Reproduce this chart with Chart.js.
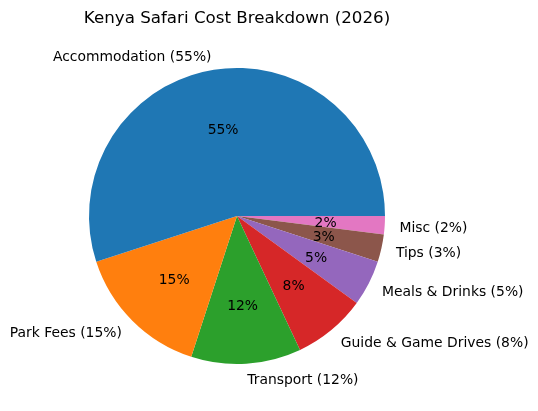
<!DOCTYPE html>
<html>
<head>
<meta charset="utf-8">
<script src="https://cdn.jsdelivr.net/npm/chart.js@4/dist/chart.umd.min.js"></script>
<style>
html,body{margin:0;padding:0;background:#fff;}
#wrap{width:538px;height:411px;position:relative;}
</style>
</head>
<body>
<div id="wrap"><canvas id="c" width="538" height="411"></canvas></div>
<script>
const categories = ["Accommodation", "Park Fees", "Transport", "Guide & Game Drives", "Meals & Drinks", "Tips", "Misc"];
const values = [55, 15, 12, 8, 5, 3, 2];
const colors = ["#1f77b4", "#ff7f0e", "#2ca02c", "#d62728", "#9467bd", "#8c564b", "#e377c2"];
const titleText = "Kenya Safari Cost Breakdown (2026)";

// matplotlib draws counter-clockwise from 3 o'clock; Chart.js draws clockwise,
// so reverse the order and start at 3 o'clock.
const rCats = categories.slice().reverse();
const rVals = values.slice().reverse();
const rCols = colors.slice().reverse();
const total = values.reduce((a, b) => a + b, 0);

const FONT = '"DejaVu Sans", sans-serif';

const labelPlugin = {
  id: 'mplLabels',
  afterDatasetsDraw(chart) {
    const ctx = chart.ctx;
    const meta = chart.getDatasetMeta(0);
    const dy = 2;
    ctx.save();
    ctx.fillStyle = '#000';
    meta.data.forEach((arc, i) => {
      const p = arc.getProps(['x', 'y', 'startAngle', 'endAngle', 'outerRadius'], true);
      const mid = (p.startAngle + p.endAngle) / 2;
      const c = Math.cos(mid), s = Math.sin(mid);
      const pct = Math.round(rVals[i] / total * 100) + '%';
      ctx.font = '13.9px ' + FONT;
      ctx.textAlign = 'center';
      ctx.textBaseline = 'middle';
      ctx.fillText(pct, p.x + 0.6 * p.outerRadius * c, p.y + 0.6 * p.outerRadius * s + dy);
      const lx = p.x + 1.1 * p.outerRadius * c;
      const ly = p.y + 1.1 * p.outerRadius * s + dy;
      ctx.textAlign = c > 0 ? 'left' : 'right';
      ctx.fillText(rCats[i] + ' (' + pct + ')', lx, ly);
    });
    ctx.font = '16.7px ' + FONT;
    ctx.textAlign = 'center';
    ctx.textBaseline = 'middle';
    ctx.fillText(titleText, meta.data[0].x, 19);
    ctx.restore();
  }
};

new Chart(document.getElementById('c'), {
  type: 'pie',
  data: {
    labels: rCats,
    datasets: [{
      data: rVals,
      backgroundColor: rCols,
      borderWidth: 0,
      hoverOffset: 0
    }]
  },
  options: {
    responsive: false,
    animation: false,
    rotation: 90,
    layout: { padding: { left: 89, right: 153, top: 68, bottom: 47 } },
    plugins: {
      legend: { display: false },
      title: { display: false },
      tooltip: { enabled: false }
    },
    events: []
  },
  plugins: [labelPlugin]
});
</script>
</body>
</html>
